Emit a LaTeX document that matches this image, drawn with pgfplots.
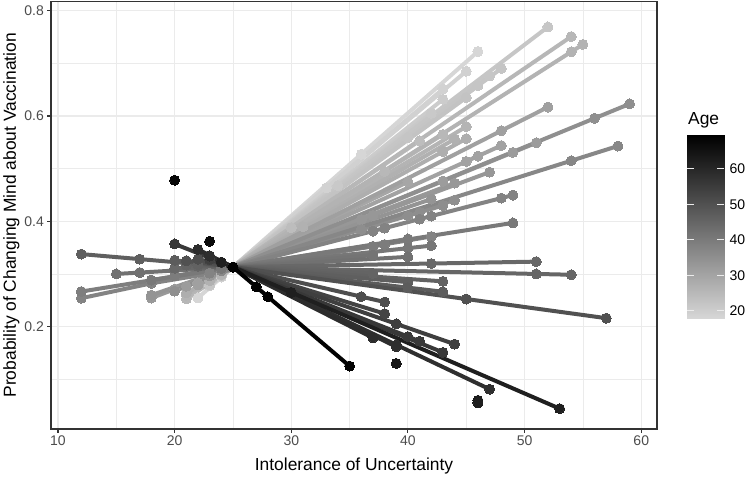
\documentclass[border=0pt]{standalone}
\usepackage{pgfplots}
\pgfplotsset{compat=1.18}
\usepackage{fontspec}
\setmainfont{Liberation Sans}
\definecolor{gridc}{gray}{0.92}
\definecolor{axc}{gray}{0.2}
\definecolor{tickc}{gray}{0.3}

% age -> grey level (low age light grey, high age black)
\newcommand\Sline[2]{%
  \pgfmathsetmacro\pct{100-84*(1-(#1-18)/51.5)}%
  \edef\tmp{\noexpand\addplot[color=black!\pct!white, line width=4pt, mark=none, forget plot] coordinates {#2};}\tmp}
\newcommand\Smark[2]{%
  \pgfmathsetmacro\pct{100-84*(1-(#1-18)/51.5)}%
  \edef\tmp{\noexpand\addplot[color=black!\pct!white, only marks, mark=*, mark size=5pt, mark options={solid, line width=0pt}, forget plot] coordinates {#2};}\tmp}

% each subject: {age}{observed points}
\newcommand\alldata{%
\S{18.0}{(22,0.2545)(36,0.5275)(46,0.7225)}%
\S{18.9}{(24,0.2942)(33,0.4634)(43,0.6514)}%
\S{19.2}{(24,0.2944)(45,0.685)}%
\S{20.4}{(23,0.2776)(43,0.6316)}%
\S{21.1}{(25,0.313)(34,0.4678)(42,0.6054)}%
\S{22.0}{(23,0.2792)(52,0.7693)}%
\S{22.0}{(24,0.2965)(47,0.676)}%
\S{22.1}{(23,0.2802)(48,0.6902)}%
\S{22.2}{(24,0.2966)(40,0.559)(46,0.6574)}%
\S{22.5}{(25,0.313)(45,0.635)}%
\S{24.0}{(24,0.298)(30,0.388)(41,0.553)}%
\S{25.3}{(24,0.299)(38,0.495)(43,0.565)}%
\S{25.5}{(21,0.2526)(54,0.7509)}%
\S{26.2}{(21,0.2596)(45,0.58)}%
\S{26.5}{(24,0.2989)(54,0.7219)(55,0.736)}%
\S{26.9}{(23,0.2874)(31,0.3898)(44,0.5562)}%
\S{27.7}{(21,0.2642)(43,0.5326)(45,0.557)}%
\S{29.6}{(22,0.2806)(40,0.475)}%
\S{30.6}{(22,0.2829)(45,0.5138)(46,0.5238)(48,0.5439)}%
\S{31.0}{(22,0.2792)(48,0.572)(52,0.617)}%
\S{31.9}{(21,0.2767)(43,0.4764)(49,0.5309)(51,0.5491)}%
\S{32.8}{(18,0.2542)(20,0.271)(44,0.4726)}%
\S{33.1}{(23,0.2966)(36,0.4032)(37,0.4114)(47,0.4934)}%
\S{33.9}{(18,0.2598)(42,0.4422)}%
\S{35.0}{(20,0.2674)(56,0.5957)(59,0.623)}%
\S{35.1}{(24,0.3063)(44,0.4403)}%
\S{35.4}{(25,0.313)(36,0.3845)(40,0.4105)(41,0.417)(43,0.43)}%
\S{37.0}{(24,0.306)(54,0.5151)(58,0.543)}%
\S{38.0}{(12,0.254)(18,0.2822)(42,0.3712)}%
\S{38.0}{(23,0.3016)(37,0.3814)(38,0.3871)(41,0.4042)(42,0.4099)(48,0.4441)(49,0.4498)}%
\S{39.3}{(12,0.2666)(40,0.3666)}%
\S{39.6}{(20,0.2965)(37,0.3526)(38,0.3559)}%
\S{40.5}{(18,0.2885)(40,0.3655)(49,0.397)}%
\S{40.8}{(24,0.3106)(40,0.349)(42,0.3538)}%
\S{41.5}{(25,0.313)(37,0.3358)}%
\S{42.3}{(15,0.300)(17,0.3026)(40,0.3325)}%
\S{44.5}{(20,0.311)(42,0.3198)(51,0.3234)}%
\S{45.0}{(22,0.3145)(51,0.300)(54,0.2985)}%
\S{45.4}{(21,0.317)(37,0.301)}%
\S{46.0}{(22,0.3175)(43,0.286)}%
\S{46.6}{(12,0.3377)(17,0.3282)(40,0.2845)}%
\S{47.5}{(20,0.326)(40,0.274)(43,0.2662)}%
\S{50.0}{(21,0.3251)(45,0.2524)(57,0.216)}%
\S{50.8}{(22,0.3283)(36,0.2569)(38,0.2467)}%
\S{53.1}{(23,0.3266)(38,0.2246)}%
\S{54.3}{(23,0.3284)(39,0.2052)(44,0.1667)}%
\S{55.8}{(20,0.357)(40,0.181)(41,0.1722)}%
\S{56.0}{(24,0.322)(43,0.151)}%
\S{58.1}{(23,0.3341)(39,0.1654)(47,0.0811)}%
\S{58.5}{(23,0.3346)(39,0.1618)}%
\S{59.0}{(22,0.3466)(37,0.1786)}%
\S{62.0}{(24,0.3226)(30,0.265)(53,0.0442)}%
\S{69.0}{(25,0.313)(27,0.2754)(28,0.2566)(35,0.125)}%
}
% subjects with a single observation
\newcommand\singles{%
\S{68}{(20,0.478)}%
\S{67}{(23,0.362)}%
\S{63}{(46,0.060)}%
\S{62}{(46,0.055)}%
\S{64}{(39,0.130)}%
}

\begin{document}
\begin{tikzpicture}
\begin{axis}[
  scale only axis, width=606pt, height=427.5pt,
  xmin=9.4, xmax=61.35, ymin=0.0055, ymax=0.8175,
  xtick={10,20,30,40,50,60}, minor xtick={15,25,35,45,55},
  ytick={0.2,0.4,0.6,0.8}, minor ytick={0.1,0.3,0.5,0.7},
  yticklabels={0.2,0.4,0.6,0.8},
  grid=both,
  major grid style={draw=gridc, line width=1.07pt},
  minor grid style={draw=gridc, line width=0.53pt},
  axis line style={draw=axc, line width=1.07pt},
  tick style={draw=axc, line width=1.07pt},
  tick align=outside, major tick length=3.6pt, minor tick length=0pt,
  xtick pos=left, ytick pos=left,
  /pgf/number format/assume math mode=true,
  ticklabel style={font=\fontsize{14}{15}\selectfont, text=tickc},
  xlabel={Intolerance of Uncertainty},
  ylabel={Probability of Changing Mind about Vaccination},
  label style={font=\fontsize{17.4}{19}\selectfont, inner sep=0pt},
  xlabel style={at={(axis description cs:0.5,-0.0959)}, anchor=base},
  ylabel style={at={(axis description cs:-0.0578,0.5)}, anchor=base},
]
\let\S\Sline
\alldata
\let\S\Smark
\alldata
\singles
\end{axis}
% colour bar legend for Age
\begin{axis}[
  at={(636pt,111pt)}, anchor=south west,
  scale only axis, width=37pt, height=183pt,
  xmin=0, xmax=1, ymin=18, ymax=69.5,
  xtick=\empty, ytick={20,30,40,50,60},
  yticklabel pos=right, ytick pos=both,
  tick align=inside, major tick length=7.4pt,
  ytick style={draw=white!85!gray, line width=1pt},
  axis line style={draw=none},
  axis on top,
  colormap={agemap}{gray(0cm)=(0.84); gray(1cm)=(0)},
  point meta min=18, point meta max=69.5,
  /pgf/number format/assume math mode=true,
  yticklabel style={font=\fontsize{14}{15}\selectfont, text=black, xshift=2pt},
]
\addplot[surf, shader=interp, mesh/rows=2, mesh/cols=2, point meta=y] coordinates {(0,18) (1,18) (0,69.5) (1,69.5)};
\end{axis}
\node[anchor=base west, inner sep=0pt, font=\fontsize{17.4}{19}\selectfont] at (637pt,304.5pt) {Age};
\pgfresetboundingbox
\useasboundingbox (-51pt,-48pt) rectangle (701pt,429pt);
\end{tikzpicture}
\end{document}
